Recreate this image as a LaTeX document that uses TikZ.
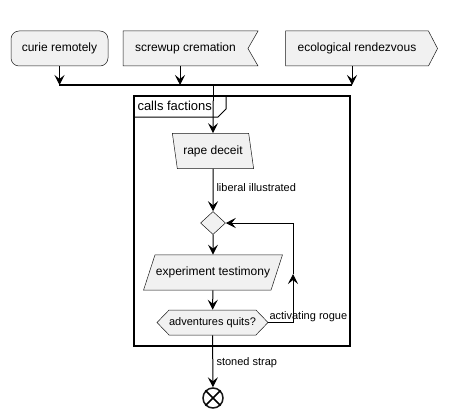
\documentclass[tikz,border=0pt]{standalone}
\usepackage{fontspec}
\setmainfont{Liberation Sans}
\usetikzlibrary{arrows.meta,shapes.geometric,shapes.symbols}
\definecolor{actfill}{HTML}{F1F1F1}
\definecolor{actline}{HTML}{181818}

\begin{document}
\begin{tikzpicture}[x=1pt,y=-1pt,line width=1pt,
    >={Stealth[length=10pt,width=10pt,inset=4pt]},
    abox/.style={draw=actline,fill=actfill,line width=0.5pt,inner sep=0pt,
        font=\fontsize{12}{14}\selectfont,minimum height=35pt},
    pbox/.style={abox,trapezium,minimum height=0pt,inner ysep=12pt},
    lbl/.style={anchor=west,inner sep=0pt,font=\fontsize{11}{13}\selectfont}]
    \useasboundingbox (0,0) rectangle (454,417);

    \node[abox,rounded corners=8pt,minimum width=97pt] (curie) at (59.5,48.5) {curie remotely};
    \node[abox,signal,signal to=nowhere,signal from=east,signal pointer angle=120,minimum width=135pt] (screwup) at (185.5,48.5) {screwup cremation};
    \node[abox,signal,signal to=east,signal pointer angle=125,minimum width=152pt] (eco) at (357,48.5) {ecological rendezvous};

    \coordinate (j1) at (59,85);
    \coordinate (j2) at (180,85);
    \coordinate (j3) at (352,85);
    \coordinate (jin) at (213,85);

    % frame
    \draw[line width=1.5pt] (134,96) rectangle (350,346);
    \draw (134,117) -- (218,117) -- (226,109) -- (226,96);
    \node[anchor=west,inner sep=0pt,font=\fontsize{13}{15}\selectfont] (calls) at (137,106) {calls factions};

    \node[pbox,trapezium left angle=98,trapezium right angle=82,inner xsep=6pt] (rape) at (213,151) {rape deceit};
    \node[abox,diamond,minimum width=25pt,minimum height=23pt] (dia) at (213,223) {};
    \node[pbox,trapezium left angle=72,trapezium right angle=108,inner xsep=1pt] (exp) at (213,272.5) {experiment testimony};
    \node[abox,signal,signal to=west and east,signal pointer angle=92,minimum width=111pt,minimum height=25pt,font=\fontsize{11}{13}\selectfont] (hex) at (212.5,322.5) {adventures quits?};
    \node[draw=actline,circle,line width=1.5pt,minimum size=20pt,inner sep=0pt] (stop) at (213,398) {};
    \draw[line width=1.5pt] (stop.north west) -- (stop.south east) (stop.north east) -- (stop.south west);

    \coordinate (lm) at (293,274);

    \draw[->] (curie) -- (curie |- j1);
    \draw[->] (j2 |- screwup.south) -- (j2);
    \draw[->] (j3 |- eco.south) -- (j3);
    \draw[line width=1.5pt] (j1) -- (j3);
    \draw (jin) -- (jin |- calls.north);
    \draw[->] (jin |- calls.north) -- (rape);
    \draw[->] (rape) -- (dia);
    \draw[->] (dia) -- (exp);
    \draw[->] (exp) -- (hex);
    \draw[->] (hex.east) -| (lm);
    \draw[->] (lm) |- (dia.east);
    \draw[->] (hex) -- (stop);

    \node[lbl] (lib) at (216,188) {liberal illustrated};
    \node[lbl] (act) at (269,317) {activating rogue};
    \node[lbl] (ston) at (216,363) {stoned strap};
\end{tikzpicture}
\end{document}
